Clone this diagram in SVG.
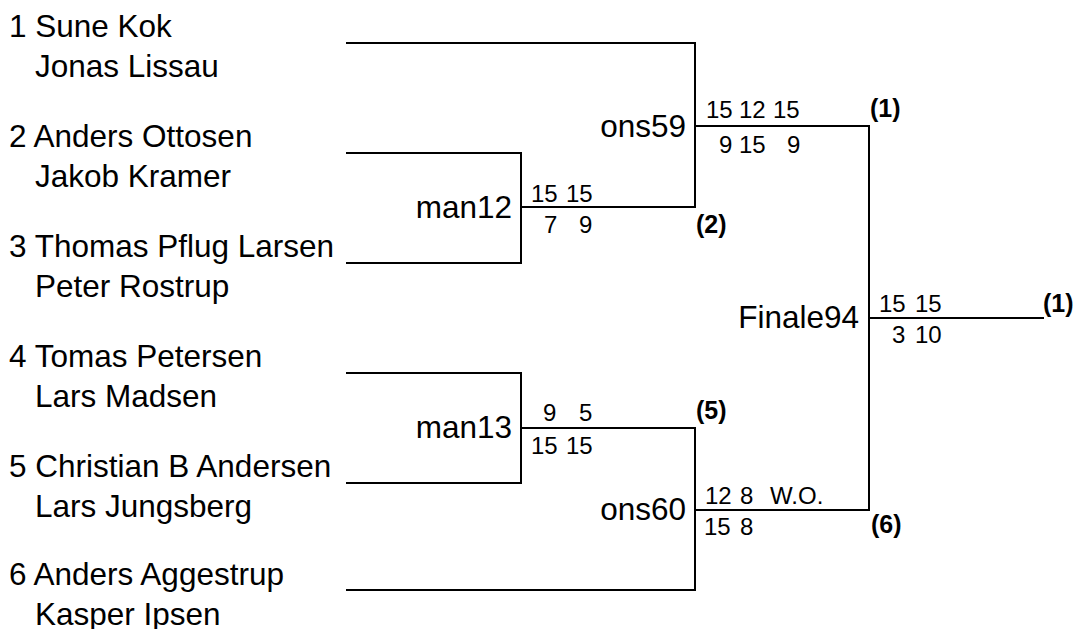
<svg xmlns="http://www.w3.org/2000/svg" width="1079" height="629" viewBox="0 0 1079 629">
<style>
.ln{fill:none;stroke:#000;stroke-width:2;stroke-linecap:square}
.nm{font-family:"Liberation Sans",Arial,sans-serif;font-size:31.5px;fill:#000}
.lb{font-family:"Liberation Sans",Arial,sans-serif;font-size:31.5px;fill:#000;text-anchor:end}
.sc{font-family:"Liberation Sans",Arial,sans-serif;font-size:24px;fill:#000}
.rs{font-family:"Liberation Sans",Arial,sans-serif;font-size:25px;font-weight:bold;fill:#000}
</style>
<rect width="1079" height="629" fill="#fff"/>
<g id="connectors">
<path class="ln" d="M347,43 H695 V207"/>
<path class="ln" d="M347,153 H521 V263 H347"/>
<path class="ln" d="M521,207 H695"/>
<path class="ln" d="M695,126 H869 V510"/>
<path class="ln" d="M869,318 H1043"/>
<path class="ln" d="M347,373 H521 V483 H347"/>
<path class="ln" d="M521,428 H695 V590 H347"/>
<path class="ln" d="M695,510 H869"/>
</g>
<g id="p1"><text class="nm" x="9" y="37">1 Sune Kok</text><text class="nm" x="35" y="77">Jonas Lissau</text></g>
<g id="p2"><text class="nm" x="9" y="147">2 Anders Ottosen</text><text class="nm" x="35" y="187">Jakob Kramer</text></g>
<g id="p3"><text class="nm" x="9" y="257">3 Thomas Pflug Larsen</text><text class="nm" x="35" y="297">Peter Rostrup</text></g>
<g id="p4"><text class="nm" x="9" y="367">4 Tomas Petersen</text><text class="nm" x="35" y="407">Lars Madsen</text></g>
<g id="p5"><text class="nm" x="9" y="477">5 Christian B Andersen</text><text class="nm" x="35" y="517">Lars Jungsberg</text></g>
<g id="p6"><text class="nm" x="9" y="585">6 Anders Aggestrup</text><text class="nm" x="35" y="625">Kasper Ipsen</text></g>
<g id="man12">
<text class="lb" x="512" y="218">man12</text>
<text class="sc" y="202"><tspan x="531">15</tspan><tspan x="566">15</tspan></text>
<text class="sc" y="233"><tspan x="544">7</tspan><tspan x="579">9</tspan></text>
<text class="rs" x="696" y="233">(2)</text>
</g>
<g id="ons59">
<text class="lb" x="686" y="137">ons59</text>
<text class="sc" y="118"><tspan x="706">15</tspan><tspan x="739">12</tspan><tspan x="773">15</tspan></text>
<text class="sc" y="153"><tspan x="719">9</tspan><tspan x="739">15</tspan><tspan x="787">9</tspan></text>
<text class="rs" x="870" y="117">(1)</text>
</g>
<g id="man13">
<text class="lb" x="512" y="438">man13</text>
<text class="sc" y="421"><tspan x="543">9</tspan><tspan x="579">5</tspan></text>
<text class="sc" y="454"><tspan x="531">15</tspan><tspan x="566">15</tspan></text>
<text class="rs" x="696" y="419">(5)</text>
</g>
<g id="ons60">
<text class="lb" x="686" y="520">ons60</text>
<text class="sc" y="504"><tspan x="705">12</tspan><tspan x="740">8</tspan><tspan x="770">W.O.</tspan></text>
<text class="sc" y="535"><tspan x="704">15</tspan><tspan x="740">8</tspan></text>
<text class="rs" x="871" y="533">(6)</text>
</g>
<g id="finale94">
<text class="lb" x="859" y="328">Finale94</text>
<text class="sc" y="312"><tspan x="879">15</tspan><tspan x="915">15</tspan></text>
<text class="sc" y="343"><tspan x="892">3</tspan><tspan x="915">10</tspan></text>
</g>
<g id="winner">
<text class="rs" x="1043" y="312">(1)</text>
</g>
</svg>
